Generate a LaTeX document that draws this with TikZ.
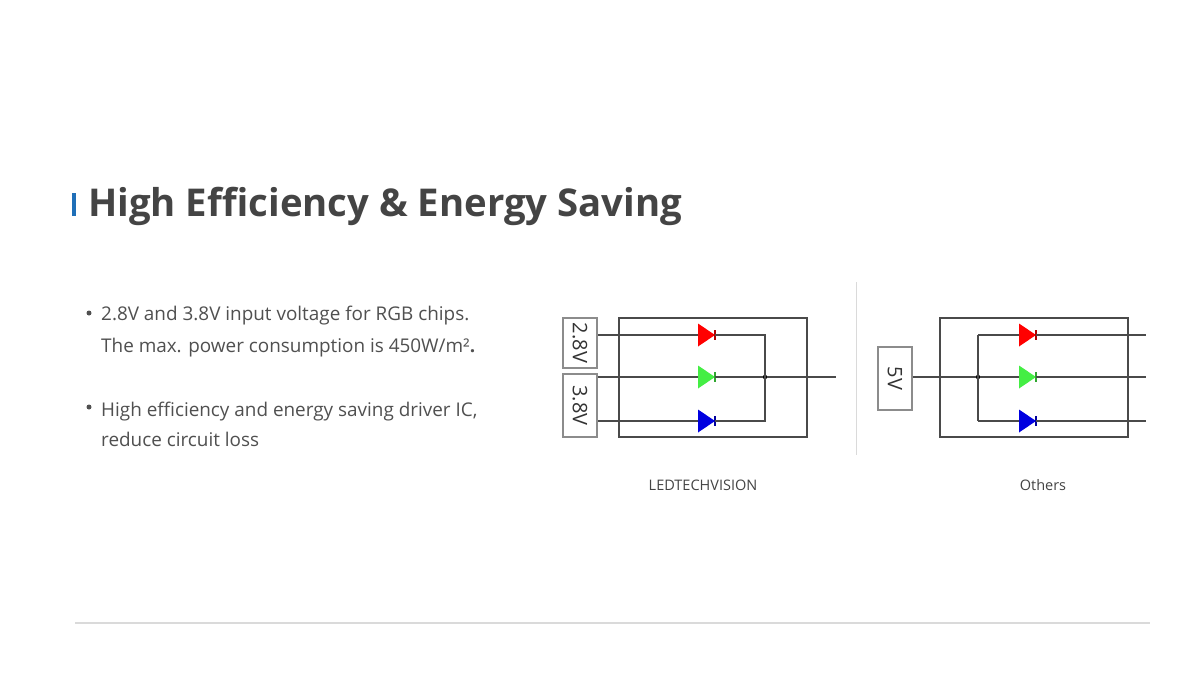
\documentclass[tikz,border=0pt]{standalone}
\usepackage{fontspec}
\setmainfont{Open Sans}
\definecolor{wirec}{HTML}{4A4A4A}
\definecolor{boxc}{HTML}{8C8C8C}
\definecolor{txtc}{HTML}{333333}
\definecolor{bodyc}{HTML}{505050}
\definecolor{titlec}{HTML}{444444}
\definecolor{accent}{HTML}{1F6FB8}
\definecolor{sepc}{HTML}{DADADA}
\definecolor{ledr}{HTML}{FF0000}
\definecolor{ledg}{HTML}{44EE44}
\definecolor{ledb}{HTML}{0000E0}
\newcommand\ledd[5]{%
  \fill[#4] (#2,#3) ++(0,-11.5) -- ++(17,11.5) -- ++(-17,11.5) -- cycle;
  \draw[#5, line width=1.2pt] (#2,#3) ++(17,-5) -- ++(0,10);
  \coordinate (#1-a) at (#2,#3);
  \path (#2,#3) ++(17,0) coordinate (#1-k);
}
\begin{document}
\begin{tikzpicture}[x=1pt,y=-1pt,
  wire/.style={draw=wirec, line width=1.4pt},
  frame/.style={draw=wirec, line width=1.4pt},
  vbox/.style={draw=boxc, line width=1.1pt, fill=white, inner sep=0pt,
    rotate=-90, text=txtc, font=\fontsize{20}{20}\selectfont},
  body/.style={anchor=base west, inner sep=0pt, text=bodyc,
    font=\fontsize{18.9}{18.9}\selectfont},
  bul/.style={circle, fill=bodyc, inner sep=0pt, minimum size=5pt},
  captext/.style={inner sep=0pt, text=titlec, font=\fontsize{14.5}{14.5}\selectfont},
  jdot/.style={circle, fill=black, inner sep=0pt, minimum size=4.5pt}]
\useasboundingbox (0,0) rectangle (1200,675);
\fill[white] (0,0) rectangle (1200,675);

% title
\fill[accent] (72,193) rectangle (76,216);
\node[anchor=base west, inner sep=0pt, text=titlec,
  font=\fontsize{38.3}{38.3}\selectfont\bfseries] (title) at (88,216)
  {High Efficiency \& Energy Saving};

% bullets
\node[bul] (b1) at (89,313) {};
\node[body] (t1) at (101,320) {2.8V and 3.8V input voltage for RGB chips.};
\node[body] (t2) at (101,352) {The max. power consumption is 450W/m²\textbf{.}};
\node[bul] (b2) at (89,407) {};
\node[body] (t3) at (101,416) {High efficiency and energy saving driver IC,};
\node[body] (t4) at (101,446) {reduce circuit loss};

% separator and bottom rule
\draw[sepc, line width=1pt] (856,282) -- (856,455);
\draw[sepc, line width=1.5pt] (75,623) -- (1150,623);

% ---------- LEDTECHVISION ----------
\draw[frame] (619,318) rectangle (807,437);
\coordinate (L1) at (597,335);
\coordinate (L2) at (597,377);
\coordinate (L3) at (597,421);
\ledd{ldr}{698}{335}{ledr}{ledr!70!black}
\ledd{ldg}{698}{377}{ledg}{ledg!70!black}
\ledd{ldb}{698}{421}{ledb}{ledb!70!black}
\coordinate (lbt) at (765,335);
\coordinate (lbb) at (765,421);
\node[jdot] (ljn) at (765,377) {};
\coordinate (lout) at (836,377);
\draw[wire] (L1) -- (ldr-a);
\draw[wire] (L2) -- (ldg-a);
\draw[wire] (L3) -- (ldb-a);
\draw[wire] (ldr-k) -- (lbt) -- (lbb) -- (ldb-k);
\draw[wire] (ldg-k) -- (ljn) -- (lout);
\node[vbox, minimum width=50pt, minimum height=34pt] (v28) at (580,343) {2.8V};
\node[vbox, minimum width=63pt, minimum height=34pt] (v38) at (580,405.5) {3.8V};
\node[captext] (capl) at (703,485) {LEDTECHVISION};

% ---------- Others ----------
\draw[frame] (940,318) rectangle (1128,437);
\node[vbox, minimum width=63pt, minimum height=34pt] (v5) at (895,378.5) {5V};
\node[jdot] (rjn) at (978,377) {};
\coordinate (rbt) at (978,335);
\coordinate (rbb) at (978,421);
\ledd{rdr}{1019}{335}{ledr}{ledr!70!black}
\ledd{rdg}{1019}{377}{ledg}{ledg!70!black}
\ledd{rdb}{1019}{421}{ledb}{ledb!70!black}
\coordinate (R1) at (1146,335);
\coordinate (R2) at (1146,377);
\coordinate (R3) at (1146,421);
\draw[wire] (v5.north |- rjn) -- (rjn);
\draw[wire] (rbt) -- (rbb);
\draw[wire] (rbt) -- (rdr-a);
\draw[wire] (rjn) -- (rdg-a);
\draw[wire] (rbb) -- (rdb-a);
\draw[wire] (rdr-k) -- (R1);
\draw[wire] (rdg-k) -- (R2);
\draw[wire] (rdb-k) -- (R3);
\node[captext] (capr) at (1043,485) {Others};
\end{tikzpicture}
\end{document}
